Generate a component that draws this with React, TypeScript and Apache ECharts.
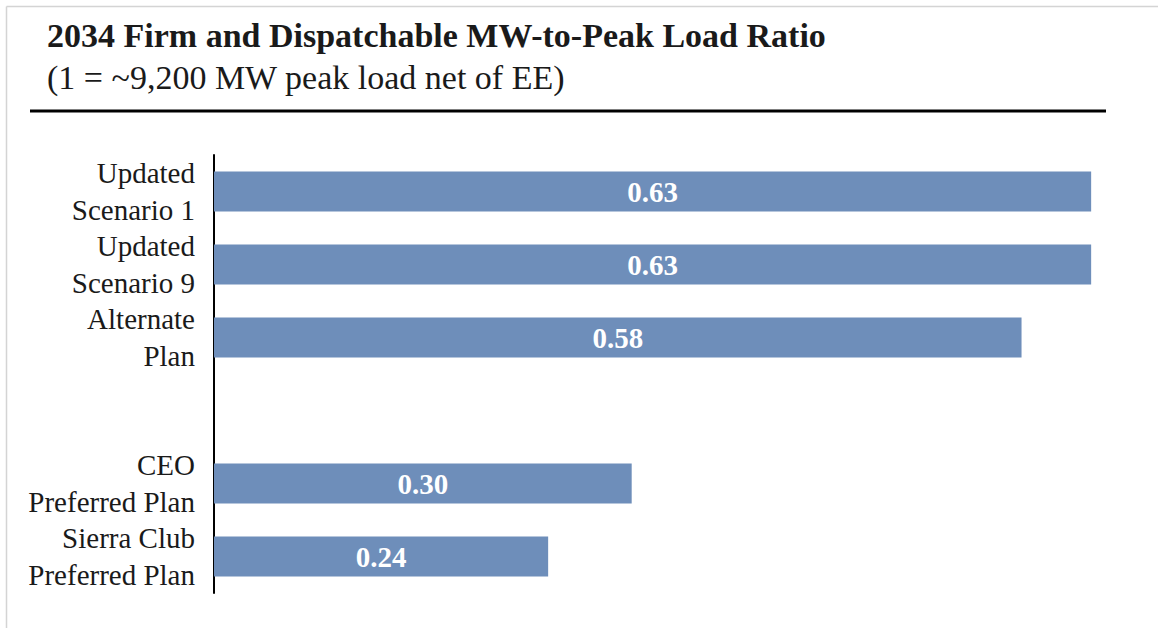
import React, { useEffect, useRef } from "react";
import * as echarts from "echarts";

const categories = [
  "Updated\nScenario 1",
  "Updated\nScenario 9",
  "Alternate\nPlan",
  "",
  "CEO\nPreferred Plan",
  "Sierra Club\nPreferred Plan",
];
const ratios: (number | null)[] = [0.63, 0.63, 0.58, null, 0.3, 0.24];
const titleText = "2034 Firm and Dispatchable MW-to-Peak Load Ratio";
const subtitleText = "(1 = ~9,200 MW peak load net of EE)";

const FONT = "'Liberation Serif', 'DejaVu Serif', serif";

export default function App() {
  const ref = useRef<HTMLDivElement>(null);
  useEffect(() => {
    if (!ref.current) return;
    const chart = echarts.init(ref.current, undefined, { renderer: "svg" });
    chart.setOption({
      animation: false,
      backgroundColor: "#ffffff",
      grid: { left: 214, top: 155, right: 39, bottom: 35 },
      xAxis: {
        type: "value",
        min: 0,
        max: 0.65,
        show: false,
      },
      yAxis: {
        type: "category",
        data: categories,
        inverse: true,
        axisLine: { show: true, lineStyle: { color: "#000000", width: 2 } },
        axisTick: { show: false },
        splitLine: { show: false },
        axisLabel: {
          interval: 0,
          fontFamily: FONT,
          fontSize: 29,
          lineHeight: 37,
          color: "#1a1a1a",
          margin: 19,
          align: "right",
        },
      },
      series: [
        {
          type: "bar",
          data: ratios,
          barWidth: 40,
          itemStyle: { color: "#6e8eba" },
          label: {
            show: true,
            position: "inside",
            color: "#ffffff",
            fontFamily: FONT,
            fontWeight: "bold",
            fontSize: 29,
            formatter: (p: any) => (p.value == null ? "" : Number(p.value).toFixed(2)),
          },
        },
      ],
      graphic: [
        {
          type: "line",
          shape: { x1: 6.5, y1: 6.5, x2: 1158, y2: 6.5 },
          style: { stroke: "#d4d4d4", lineWidth: 1.5 },
        },
        {
          type: "line",
          shape: { x1: 6.5, y1: 6.5, x2: 6.5, y2: 628 },
          style: { stroke: "#d4d4d4", lineWidth: 1.5 },
        },
        {
          type: "text",
          x: 47,
          y: 35,
          style: {
            text: titleText,
            fontFamily: FONT,
            fontWeight: "bold",
            fontSize: 34,
            fill: "#1a1a1a",
            textVerticalAlign: "middle",
          },
        },
        {
          type: "text",
          x: 47,
          y: 77,
          style: {
            text: subtitleText,
            fontFamily: FONT,
            fontSize: 34,
            fill: "#1a1a1a",
            textVerticalAlign: "middle",
          },
        },
        {
          type: "line",
          shape: { x1: 30, y1: 111, x2: 1106, y2: 111 },
          style: { stroke: "#000000", lineWidth: 3 },
        },
      ],
    });
    return () => chart.dispose();
  }, []);
  return (
    <div
      ref={ref}
      style={{ position: "fixed", left: 0, top: 0, width: 1158, height: 628 }}
    />
  );
}
